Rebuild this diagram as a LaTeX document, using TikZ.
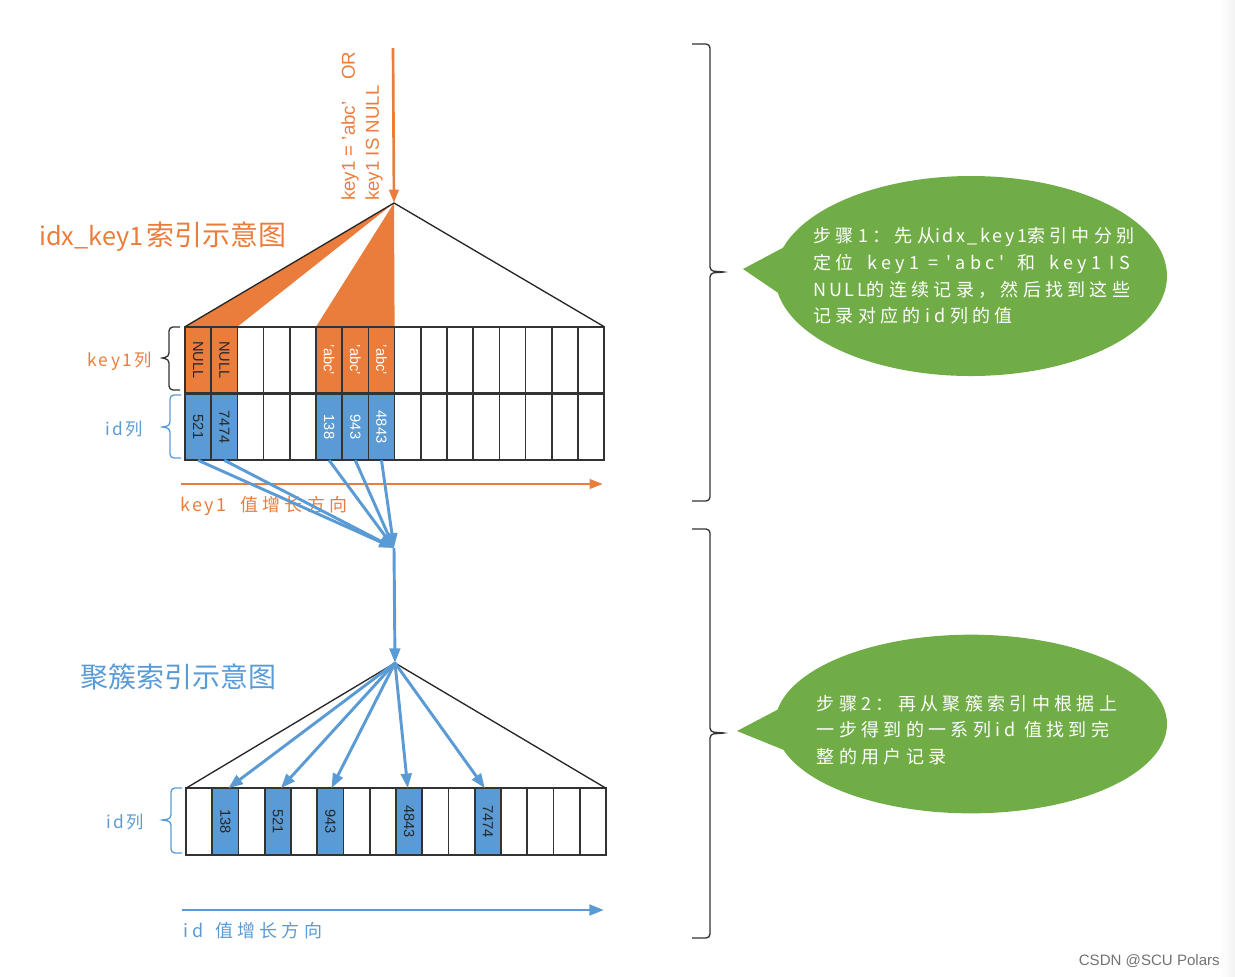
\documentclass[tikz,border=0pt]{standalone}
\usepackage{fontspec}
\setmainfont{Liberation Sans}
\newfontfamily\cjkflat{Noto Sans CJK SC}
\newfontfamily\cjk[LetterSpace=14]{Noto Sans CJK SC}
\newfontfamily\cjkwide[LetterSpace=24]{Noto Sans CJK SC}
\usetikzlibrary{arrows.meta,shapes.geometric,shapes.callouts}
\definecolor{idxorange}{HTML}{EB7D3C}
\definecolor{idxblue}{HTML}{5B9BD5}
\definecolor{stepgreen}{HTML}{70AD47}
\definecolor{gridline}{HTML}{333333}
\tikzstyle{cell}=[rectangle,draw=gridline,line width=1.3pt,minimum width=19.65pt,minimum height=49.9pt,inner sep=0pt,outer sep=0pt]
\tikzstyle{full}=[draw=gridline,line width=1.3pt]
\tikzstyle{valdark}=[font=\fontsize{11}{11}\selectfont,text=black!85,rotate=-90,inner sep=0pt]
\tikzstyle{vallight}=[font=\fontsize{11}{11}\selectfont,text=white,rotate=-90,inner sep=0pt]
\tikzstyle{orangeedge} = [draw,idxorange,line width=2pt,-{Triangle[length=10pt,width=7pt]}]
\tikzstyle{blueedge} = [draw,idxblue,line width=2.2pt,-{Triangle[length=11pt,width=8pt]}]
\tikzstyle{roofedge} = [draw,black!85,line width=1pt]
\tikzstyle{bubble}=[ellipse callout,fill=stepgreen,minimum width=294pt,inner sep=0pt,callout pointer arc=26]
\tikzstyle{steptext}=[font=\cjkwide\fontsize{13.5}{20}\selectfont,text=white,align=left,inner sep=0pt]
\tikzstyle{orangelabel}=[font=\cjk\fontsize{13}{13}\selectfont,text=idxorange,inner sep=0pt,anchor=west]
\tikzstyle{bluelabel}=[font=\cjk\fontsize{13}{13}\selectfont,text=idxblue,inner sep=0pt,anchor=west]
\newcommand{\sidebrace}[7]{\draw[#1,line width=1pt,rounded corners=3pt] (#2,#5) -- (#3,#5) -- (#3,#6-1) -- (#4,#6) -- (#3,#6+1) -- (#3,#7) -- (#2,#7);}

\begin{document}
\begin{tikzpicture}[x=0.75pt,y=-0.75pt]
    \useasboundingbox (0,0) rectangle (1235,976);
    \shade[left color=white,right color=black!5] (1220,0) rectangle (1235,976);

    % Cells of both rows and of the clustered index
    \foreach \i in {0,...,15} {
        \node[cell] (k\i) at (198.1+26.2*\i,360) {};
        \node[cell] (v\i) at (198.1+26.2*\i,427) {};
        \node[cell] (c\i) at (199.1+26.25*\i,821.5) {};
    }
    \coordinate (apex) at (394,203);
    \coordinate (join) at (394,548);
    \coordinate (apexc) at (395,663);
    \coordinate (arrowtop) at (393,48);

    % Roofs
    \fill[idxorange] (apex) -- (k0.north west) -- (k1.north east) -- cycle;
    \fill[idxorange] (apex) -- (k5.north west) -- (k7.north east) -- cycle;
    \path[roofedge] (k0.north west) -- (apex) -- (k15.north east);
    \path[roofedge] (c0.north west) -- (apexc) -- (c15.north east);

    \foreach \name/\val/\tone in {0/NULL/valdark,1/NULL/valdark,5/'abc'/vallight,6/'abc'/vallight,7/'abc'/vallight} {
        \path[full,fill=idxorange] (k\name.north west) rectangle (k\name.south east);
        \node[\tone] (keyval\name) at (k\name) {\val};
    }
    \foreach \name/\val/\tone in {0/521/valdark,1/7474/valdark,5/138/vallight,6/943/vallight,7/4843/vallight} {
        \path[full,fill=idxblue] (v\name.north west) rectangle (v\name.south east);
        \node[\tone] (idval\name) at (v\name) {\val};
    }
    \foreach \name/\val in {1/138,3/521,5/943,8/4843,11/7474} {
        \path[full,fill=idxblue] (c\name.north west) rectangle (c\name.south east);
        \node[valdark] (cval\name) at (c\name) {\val};
    }

    % Search arrow and its label
    \path[orangeedge] (arrowtop) -- (apex);
    \node[rotate=90,anchor=west,align=left,text=idxorange,inner sep=0pt,font=\fontsize{14}{18}\selectfont] (cond) at (362,201) {key1 = 'abc'\hspace{16.5pt}OR\\key1 IS NULL};

    % Titles and row labels
    \node[orangelabel,font=\cjkflat\fontsize{21}{21}\selectfont] (titlekey) at (39,237) {{\fontsize{19}{19}\selectfont idx\_key1}\hspace{2pt}索引示意图};
    \node[bluelabel,font=\cjkflat\fontsize{21}{21}\selectfont] (titlec) at (80,677) {聚簇索引示意图};
    \node[orangelabel] (keycol) at (87,361) {key1列};
    \node[bluelabel] (idcol) at (105,429) {id列};
    \node[bluelabel] (idcolc) at (106,822) {id列};

    % Direction arrows
    \coordinate (keystart) at (181,484);
    \coordinate (keyend) at (603,484);
    \coordinate (idstart) at (182,910);
    \coordinate (idend) at (604,910);
    \path[orangeedge] (keystart) -- (keyend);
    \path[blueedge] (idstart) -- (idend);
    \node[orangelabel,font=\cjkwide\fontsize{13.5}{13}\selectfont] (keydir) at (180,506) {{\cjk key1}\hspace{10pt}值增长方向};
    \node[bluelabel,font=\cjkwide\fontsize{13.5}{13}\selectfont] (iddir) at (183,931) {id\hspace{8.5pt}值增长方向};

    % Connect the id cells with the clustered index
    \foreach \source in {0,1,5,6,7}
        \path[blueedge] (v\source.south) -- (join);
    \path[blueedge] (join) -- (apexc);
    \foreach \dest/\shift in {1/2.2pt,3/2.2pt,5/0.8pt,8/-1pt,11/-2.2pt}
        \path[blueedge] (apexc) -- ([xshift=\shift]c\dest.north);

    % Braces
    \sidebrace{black!80}{180}{169}{160}{327}{358}{390}
    \sidebrace{idxblue}{181}{170}{160}{395}{427}{458}
    \sidebrace{idxblue}{182}{171}{160}{788}{820}{853}
    \sidebrace{black!80}{692}{710}{726}{44}{272}{501}
    \sidebrace{black!80}{692}{710}{726}{529}{733}{938}

    % Bubbles with the two steps
    \node[bubble,minimum height=150pt,callout absolute pointer={(743,269)}] (bubbleone) at (971,276) {};
    \node[bubble,minimum height=134pt,callout absolute pointer={(737,731)}] (bubbletwo) at (971,724) {};
    \node[steptext] (stepone) at (974,276) {步骤1：先从{\cjk idx\_key1}索引中分别\\定位\hspace{4pt} key1 = 'abc'\hspace{4pt} 和\hspace{4pt} key1 IS\\{\cjk NULL}的连续记录，然后找到这些\\记录对应的id列的值};
    \node[steptext] (steptwo) at (967,730) {步骤2：再从聚簇索引中根据上\\一步得到的一系列id 值找到完\\整的用户记录};

    \node[anchor=east,inner sep=0pt,text=black!55,font=\fontsize{11.3}{12}\selectfont] (mark) at (1220,961) {CSDN @SCU Polars};
\end{tikzpicture}
\end{document}
